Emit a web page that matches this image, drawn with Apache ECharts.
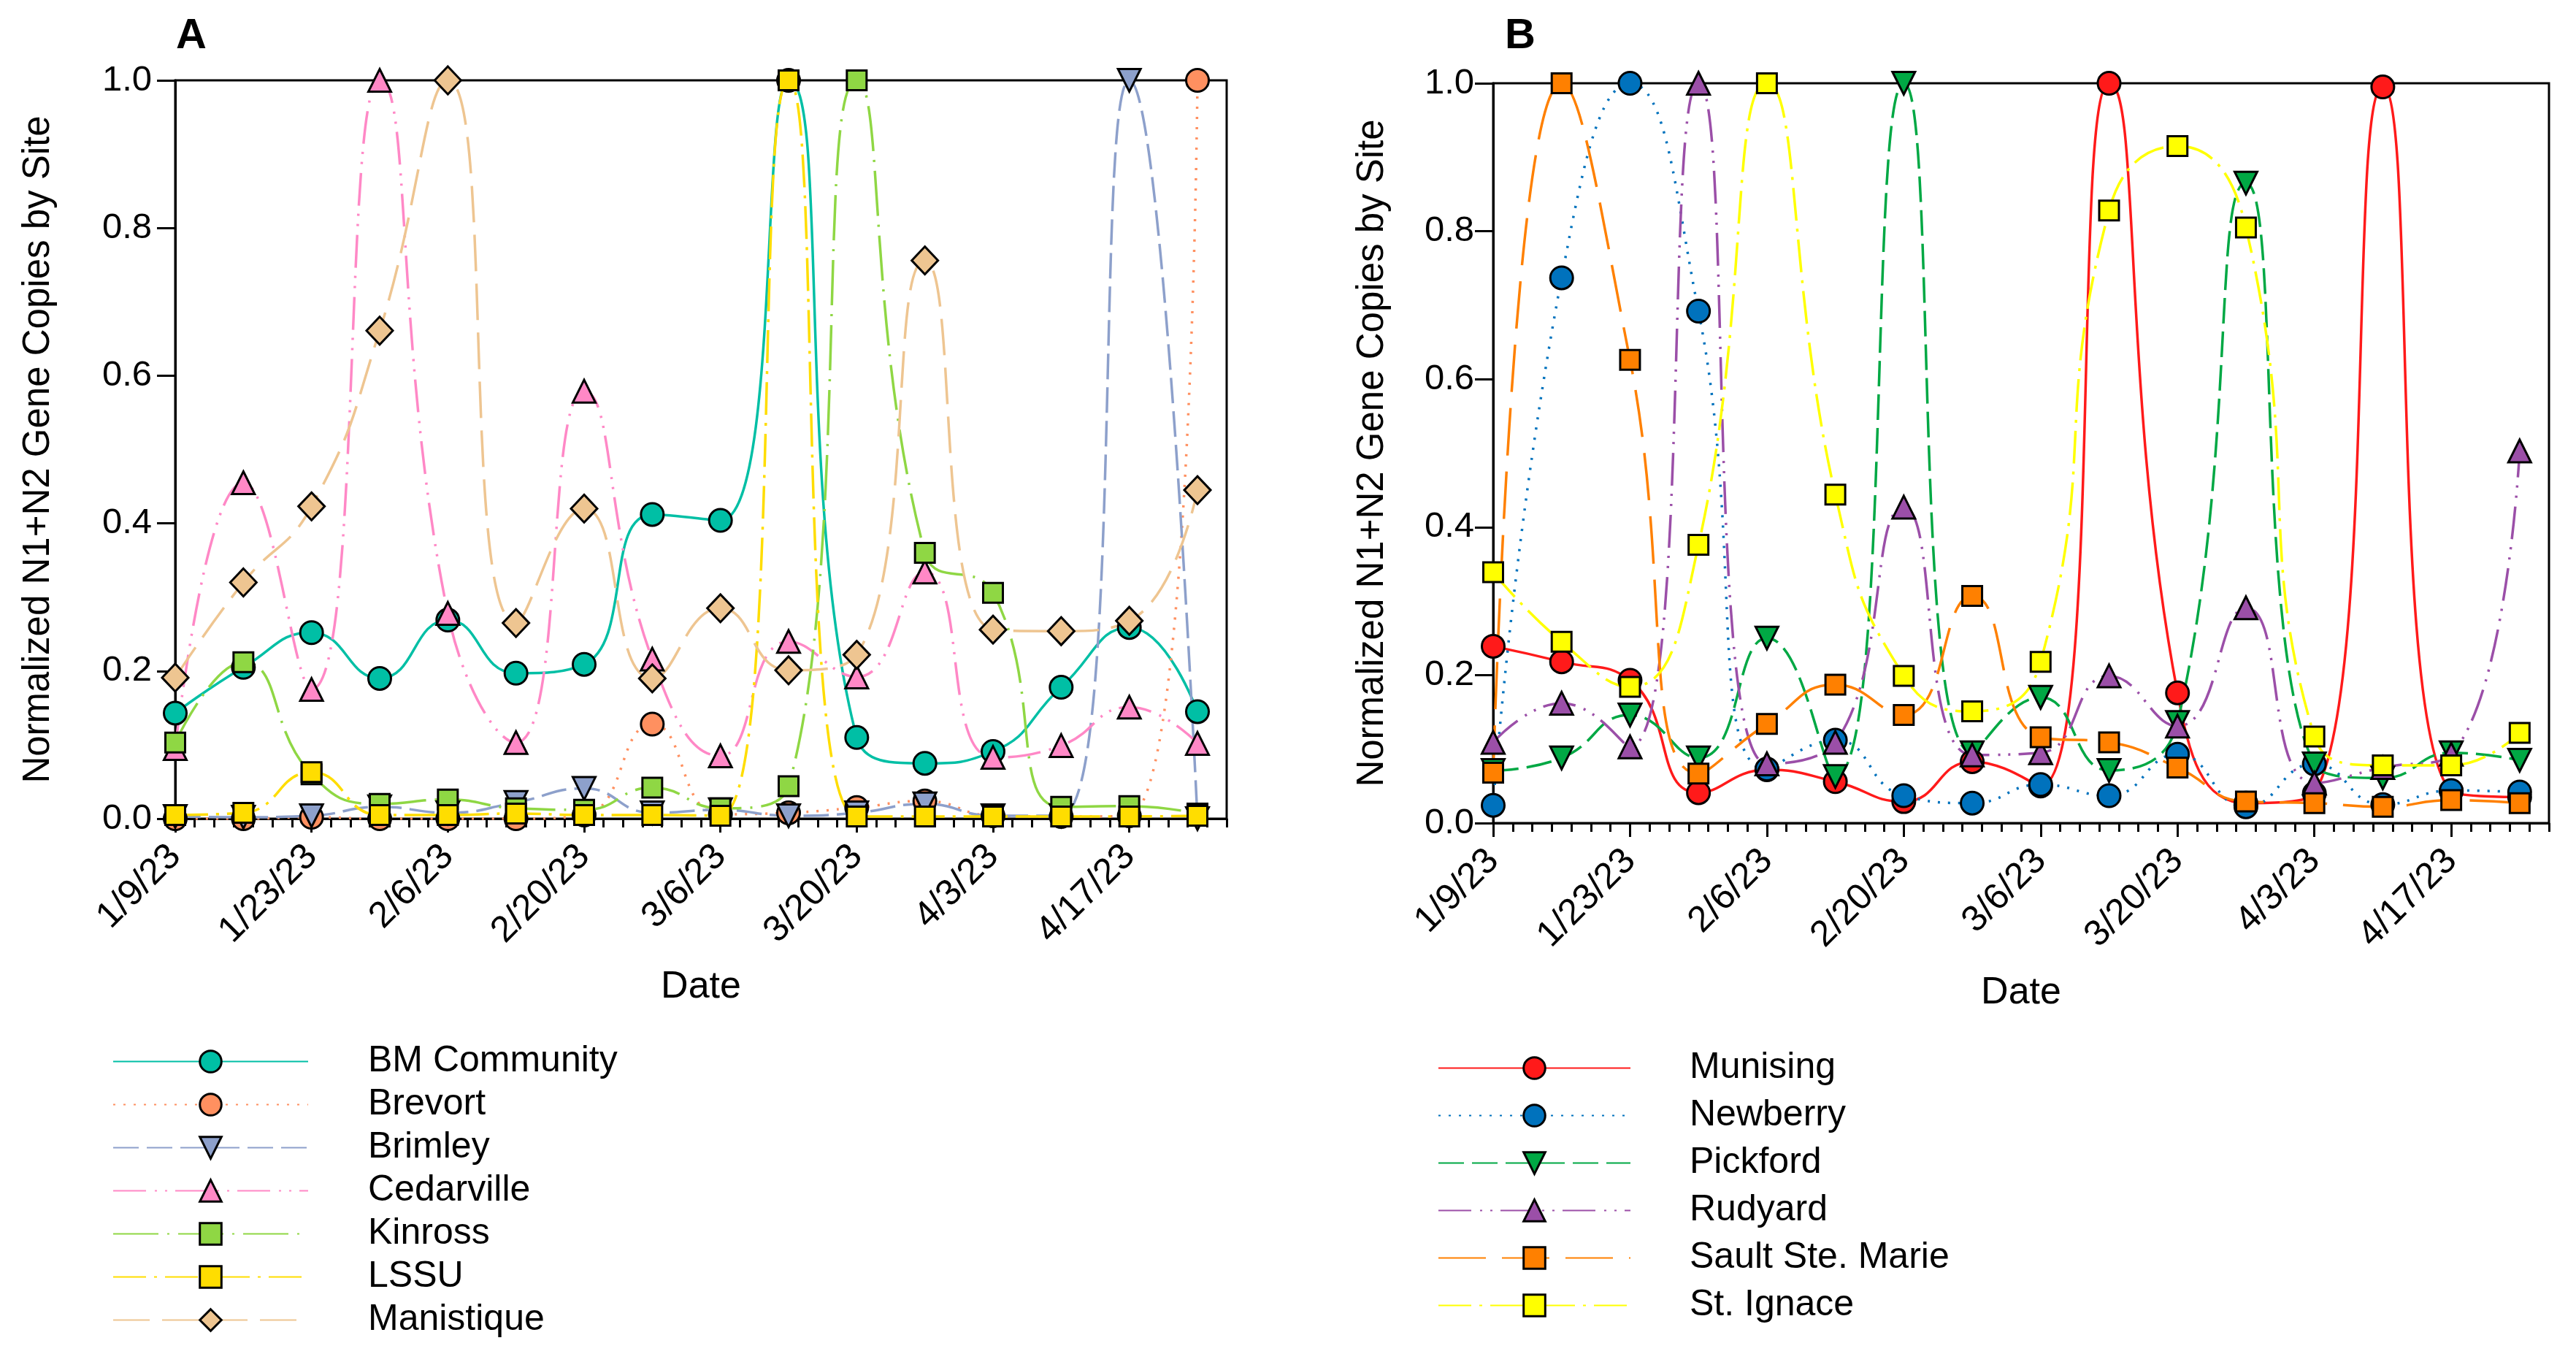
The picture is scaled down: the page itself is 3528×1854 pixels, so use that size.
<!DOCTYPE html>
<html>
<head>
<meta charset="utf-8">
<title>Normalized N1+N2 Gene Copies by Site</title>
<script src="https://cdn.jsdelivr.net/npm/echarts@6.0.0/dist/echarts.min.js"></script>
<style>
    html, body { margin: 0; padding: 0; background: #fff; }
    #chart { width: 3528px; height: 1854px; }
</style>
</head>
<body>
<div id="chart"></div>
<script>
// Sampling dates (weekly)
const dates = ['1/9/23', '1/16/23', '1/23/23', '1/30/23', '2/6/23', '2/13/23', '2/20/23', '2/27/23',
    '3/6/23', '3/13/23', '3/20/23', '3/27/23', '4/3/23', '4/10/23', '4/17/23', '4/24/23'];
const tickLabels = ['1/9/23', '1/23/23', '2/6/23', '2/20/23', '3/6/23', '3/20/23', '4/3/23', '4/17/23'];
const axisEnd = '4/27/23';

// Panel A
const bmCommunity = [0.143, 0.205, 0.252, 0.19, 0.269, 0.197, 0.209, 0.412, 0.404, 1.0, 0.11, 0.075, 0.091, 0.178, 0.259, 0.145];
const brevort = [0.0, 0.0, 0.002, 0.0, 0.0, 0.0, 0.005, 0.128, 0.006, 0.008, 0.015, 0.024, 0.004, 0.003, 0.004, 1.0];
const brimley = [0.003, 0.002, 0.004, 0.016, 0.008, 0.022, 0.041, 0.008, 0.012, 0.004, 0.008, 0.02, 0.004, 0.004, 1.0, 0.0];
const cedarville = [0.095, 0.455, 0.175, 1.0, 0.278, 0.103, 0.579, 0.216, 0.085, 0.24, 0.192, 0.334, 0.083, 0.099, 0.151, 0.102];
const kinross = [0.103, 0.212, 0.06, 0.02, 0.026, 0.014, 0.012, 0.042, 0.014, 0.044, 1.0, 0.36, 0.306, 0.016, 0.017, 0.007];
const lssu = [0.005, 0.008, 0.063, 0.005, 0.005, 0.007, 0.005, 0.005, 0.004, 1.0, 0.003, 0.003, 0.003, 0.003, 0.003, 0.004];
const manistique = [0.191, 0.32, 0.423, 0.661, 1.0, 0.265, 0.42, 0.19, 0.285, 0.201, 0.222, 0.756, 0.256, 0.254, 0.268, 0.445];

// Panel B
const munising = [0.239, 0.218, 0.193, 0.041, 0.072, 0.056, 0.029, 0.083, 0.05, 1.0, 0.176, 0.027, 0.04, 0.995, 0.043, 0.035];
const newberry = [0.024, 0.737, 1.0, 0.692, 0.073, 0.112, 0.037, 0.027, 0.052, 0.037, 0.093, 0.022, 0.08, 0.025, 0.044, 0.042];
const pickford = [0.071, 0.088, 0.146, 0.088, 0.25, 0.063, 1.0, 0.095, 0.17, 0.071, 0.136, 0.865, 0.08, 0.061, 0.095, 0.085];
const rudyard = [0.109, 0.162, 0.103, 1.0, 0.08, 0.109, 0.427, 0.092, 0.095, 0.199, 0.131, 0.291, 0.054, 0.075, 0.093, 0.503];
const saultSteMarie = [0.068, 1.0, 0.626, 0.067, 0.134, 0.187, 0.146, 0.307, 0.116, 0.109, 0.075, 0.029, 0.027, 0.022, 0.031, 0.027];
const stIgnace = [0.339, 0.245, 0.184, 0.376, 1.0, 0.444, 0.199, 0.151, 0.218, 0.828, 0.915, 0.805, 0.117, 0.078, 0.078, 0.122];

const FONT = 'Arial, "Liberation Sans", sans-serif';
const DOWN_TRIANGLE = 'path://M0,0 L10,0 L5,8.66 Z';

function dayOffset(str) {
    const p = str.split('/').map(Number);
    const d0 = dates[0].split('/').map(Number);
    return Math.round((Date.UTC(2000 + p[2], p[0] - 1, p[1]) - Date.UTC(2000 + d0[2], d0[0] - 1, d0[1])) / 86400000);
}

const days = dates.map(dayOffset);
const majorDays = tickLabels.map(dayOffset);
const maxDay = dayOffset(axisEnd);

function makeSeries(name, values, color, dash, symbol, size, panel) {
    return {
        name: name,
        type: 'line',
        xAxisIndex: panel * 2,
        yAxisIndex: panel,
        smooth: 0.5,
        data: days.map((d, i) => [d, values[i]]),
        symbol: symbol,
        symbolSize: size,
        lineStyle: { color: color, width: 3.5, type: dash },
        itemStyle: { color: color, borderColor: '#000', borderWidth: 3 },
        emphasis: { disabled: true }
    };
}

function minorAxis(grid) {
    return {
        gridIndex: grid,
        type: 'value',
        position: 'bottom',
        min: 0,
        max: maxDay,
        interval: 2,
        axisLine: { lineStyle: { color: '#000', width: 3 } },
        axisTick: { length: 12, lineStyle: { color: '#000', width: 3 } },
        axisLabel: { show: false },
        splitLine: { show: false }
    };
}

function majorAxis(grid, gap) {
    return {
        gridIndex: grid,
        type: 'value',
        position: 'bottom',
        min: 0,
        max: maxDay,
        interval: 14,
        name: 'Date',
        nameLocation: 'middle',
        nameGap: gap,
        nameTextStyle: { fontSize: 52, color: '#000', fontFamily: FONT },
        axisLine: { show: false },
        axisTick: { length: 19, customValues: majorDays, lineStyle: { color: '#000', width: 3 } },
        axisLabel: {
            rotate: 45,
            margin: 44,
            fontSize: 50,
            color: '#000',
            fontFamily: FONT,
            customValues: majorDays,
            formatter: function(v) {
                const i = majorDays.indexOf(v);
                return i >= 0 ? tickLabels[i] : '';
            }
        },
        splitLine: { show: false }
    };
}

function yAxis(grid, gap, margin) {
    return {
        gridIndex: grid,
        type: 'value',
        min: 0,
        max: 1,
        interval: 0.2,
        name: 'Normalized N1+N2 Gene Copies by Site',
        nameLocation: 'middle',
        nameGap: gap,
        nameTextStyle: { fontSize: 51, color: '#000', fontFamily: FONT },
        axisLine: { show: true, lineStyle: { color: '#000', width: 3 } },
        axisTick: { show: true, length: 25, lineStyle: { color: '#000', width: 3 } },
        axisLabel: {
            margin: margin,
            fontSize: 49,
            color: '#000',
            fontFamily: FONT,
            formatter: v => v.toFixed(1)
        },
        splitLine: { show: false }
    };
}

function legend(names, left, top, width, rowHeight, pad) {
    return {
        data: names,
        orient: 'vertical',
        left: left,
        top: top,
        padding: 0,
        itemGap: 0,
        itemWidth: width,
        itemHeight: 37,
        selectedMode: false,
        itemStyle: { borderColor: '#000', borderWidth: 3 },
        textStyle: {
            fontSize: 50,
            lineHeight: rowHeight,
            color: '#000',
            fontFamily: FONT,
            padding: [0, 0, 0, pad]
        }
    };
}

const seriesA = [
    makeSeries('BM Community', bmCommunity, '#00BFA5', 'solid', 'circle', 31, 0),
    makeSeries('Brevort', brevort, '#FF9060', [3, 11], 'circle', 31, 0),
    makeSeries('Brimley', brimley, '#8DA0CB', [35, 11], DOWN_TRIANGLE, 31, 0),
    makeSeries('Cedarville', cedarville, '#FF88C6', [45, 12, 3, 11, 3, 11], 'triangle', 31, 0),
    makeSeries('Kinross', kinross, '#8FD744', [62, 12, 3, 12], 'rect', 27, 0),
    makeSeries('LSSU', lssu, '#FFDD00', [45, 11, 4, 11], 'rect', 27, 0),
    makeSeries('Manistique', manistique, '#EEC591', [50, 17], 'diamond', [36, 38], 0)
];

const seriesB = [
    makeSeries('Munising', munising, '#FF1A1A', 'solid', 'circle', 31, 1),
    makeSeries('Newberry', newberry, '#0072BD', [3, 11], 'circle', 31, 1),
    makeSeries('Pickford', pickford, '#00A844', [35, 11], DOWN_TRIANGLE, 31, 1),
    makeSeries('Rudyard', rudyard, '#9B4FA8', [45, 12, 3, 11, 3, 11], 'triangle', 31, 1),
    makeSeries('Sault Ste. Marie', saultSteMarie, '#FF8000', [65, 22], 'rect', 27, 1),
    makeSeries('St. Ignace', stIgnace, '#FFFF00', [45, 11, 4, 11], 'rect', 27, 1)
];

const chart = echarts.init(document.getElementById('chart'));
const option = {
    animation: false,
    backgroundColor: '#fff',
    title: [
        { text: 'A', left: 236, top: 16, textStyle: { fontSize: 58, fontWeight: 'bold', color: '#000', fontFamily: FONT } },
        { text: 'B', left: 2056, top: 16, textStyle: { fontSize: 58, fontWeight: 'bold', color: '#000', fontFamily: FONT } }
    ],
    grid: [
        { left: 240, top: 110, width: 1440, height: 1011, show: true, borderColor: '#000', borderWidth: 3, containLabel: false },
        { left: 2045, top: 114, width: 1446, height: 1013, show: true, borderColor: '#000', borderWidth: 3, containLabel: false }
    ],
    xAxis: [minorAxis(0), majorAxis(0, 205), minorAxis(1), majorAxis(1, 207)],
    yAxis: [yAxis(0, 162, 32), yAxis(1, 140, 26)],
    legend: [
        legend(seriesA.map(s => s.name), 154, 1424, 267, 59, 77),
        legend(seriesB.map(s => s.name), 1969, 1430, 263, 65, 76)
    ],
    series: seriesA.concat(seriesB)
};
chart.setOption(option);
</script>
</body>
</html>
